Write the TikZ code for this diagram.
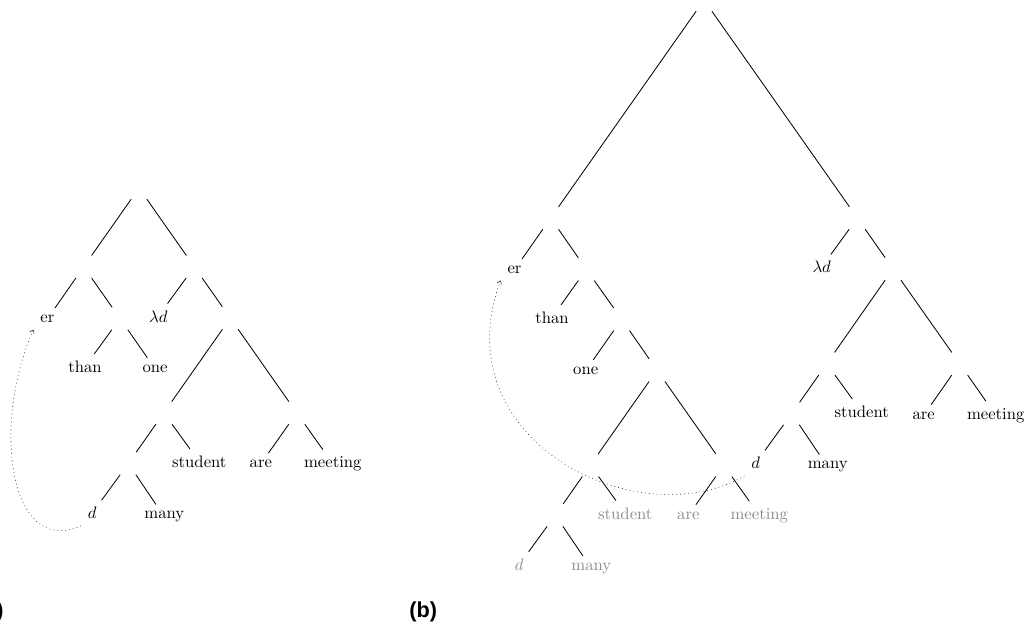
\documentclass[tikz,border=0pt]{standalone}
\usepackage{fontspec}
\newfontfamily\labfont{Liberation Sans}
\usetikzlibrary{arrows.meta}
\begin{document}
\begin{tikzpicture}[x=0.6pt, y=0.6pt, line width=0.5pt, line join=round, line cap=round, >={To[length=2pt,width=3pt]},
	knot/.style={minimum width=10pt, minimum height=13.2pt, inner sep=0pt},
	word/.style={anchor=base, inner sep=4pt},
	gone/.style={word, text=black!45},
	trace/.style={dotted, line width=0.35pt, black!80, ->},
	tag/.style={font=\labfont\fontsize{13}{15}\selectfont\bfseries, inner sep=0pt}]
		\useasboundingbox (0,0) rectangle (1027,-626);
		\node[knot] (ar) at (139,-188) {};
		\node[knot] (a1) at (83.7,-266.8) {};
		\node[knot] (a2) at (194.3,-266.8) {};
		\node[word] (aer) at (47.4,-322.5) {er};
		\node[knot] (a3) at (120,-318.5) {};
		\node[word] (alam) at (158.3,-322.1) {$\lambda d$};
		\node[knot] (a4) at (230.3,-318.1) {};
		\node[word] (athan) at (85,-372.4) {than};
		\node[word] (aone) at (155,-372.4) {one};
		\node[knot] (a5) at (163.8,-412.9) {};
		\node[knot] (a6) at (296.8,-412.9) {};
		\node[knot] (a7) at (128.3,-463.5) {};
		\node[word] (astu) at (199.3,-467.5) {student};
		\node[word] (aare) at (260.8,-467.5) {are};
		\node[word] (ameet) at (332.8,-467.5) {meeting};
		\node[word] (ad) at (92.3,-518.8) {$d$};
		\node[word] (amany) at (164.3,-518.8) {many};
		\draw (ar)--(a1) (ar)--(a2);
		\draw (a1)--(aer) (a1)--(a3);
		\draw (a2)--(alam) (a2)--(a4);
		\draw (a3)--(athan) (a3)--(aone);
		\draw (a4)--(a5) (a4)--(a6);
		\draw (a5)--(a7) (a5)--(astu);
		\draw (a6)--(aare) (a6)--(ameet);
		\draw (a7)--(ad) (a7)--(amany);
		\draw[trace] (ad.south west) to[out=204,in=246,out looseness=1,in looseness=1.3] (aer.south west);
		\node[knot] (br) at (704,0) {};
		\node[knot] (b1) at (550.7,-218) {};
		\node[knot] (b2) at (857.3,-218) {};
		\node[word] (ber) at (514.5,-273.3) {er};
		\node[knot] (b3) at (586.3,-269.3) {};
		\node[word] (bthan) at (552,-323.3) {than};
		\node[knot] (b4) at (621.7,-319.3) {};
		\node[word] (bone) at (585.7,-374.2) {one};
		\node[knot] (b5) at (657,-370.2) {};
		\node[knot] (b6) at (590.3,-465.2) {};
		\node[knot] (b7) at (723.8,-465.2) {};
		\node[knot] (b8) at (555.3,-515.1) {};
		\node[gone] (bstu) at (625.3,-519.1) {student};
		\node[gone] (bare) at (688.3,-519.1) {are};
		\node[gone] (bmeet) at (759.3,-519.1) {meeting};
		\node[gone] (bd) at (519.3,-570.4) {$d$};
		\node[gone] (bmany) at (591.3,-570.4) {many};
		\node[word] (blam) at (821.7,-272.9) {$\lambda d$};
		\node[knot] (b9) at (893,-268.9) {};
		\node[knot] (b10) at (826.7,-363.7) {};
		\node[knot] (b11) at (959.7,-363.7) {};
		\node[knot] (b12) at (791.7,-413.6) {};
		\node[word] (bstu2) at (861.7,-417.6) {student};
		\node[word] (bare2) at (923.7,-419) {are};
		\node[word] (bmeet2) at (995.7,-419) {meeting};
		\node[word] (bd2) at (755.7,-468.9) {$d$};
		\node[word] (bmany2) at (827.7,-468.9) {many};
		\draw (br)--(b1) (br)--(b2);
		\draw (b1)--(ber) (b1)--(b3);
		\draw (b3)--(bthan) (b3)--(b4);
		\draw (b4)--(bone) (b4)--(b5);
		\draw (b5)--(b6) (b5)--(b7);
		\draw (b6)--(b8) (b6)--(bstu);
		\draw (b7)--(bare) (b7)--(bmeet);
		\draw (b8)--(bd) (b8)--(bmany);
		\draw (b2)--(blam) (b2)--(b9);
		\draw (b9)--(b10) (b9)--(b11);
		\draw (b10)--(b12) (b10)--(bstu2);
		\draw (b11)--(bare2) (b11)--(bmeet2);
		\draw (b12)--(bd2) (b12)--(bmany2);
		\draw[trace] (bd2.south west) to[out=210,in=250,out looseness=1,in looseness=1.4] (ber.south west);
		\node[tag,anchor=base east] (la) at (4,-617) {(a)};
		\node[tag,anchor=base west] (lb) at (409,-617) {(b)};
\end{tikzpicture}
\end{document}
